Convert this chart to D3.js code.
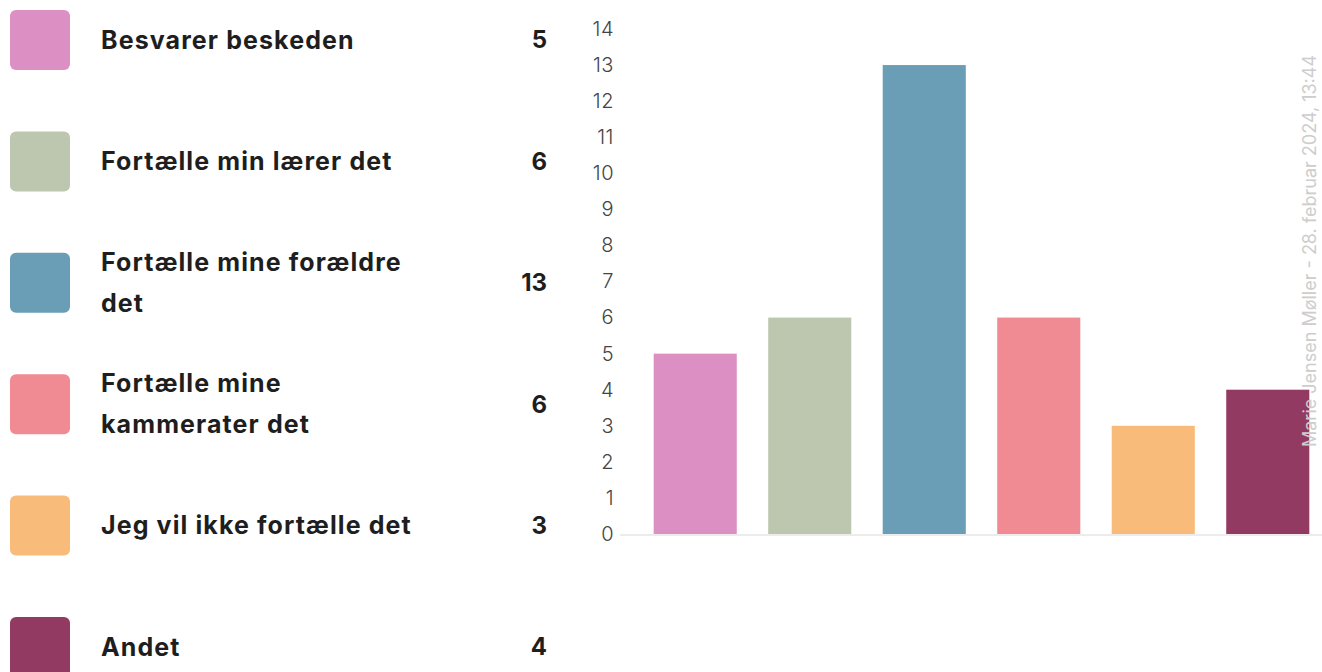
<!DOCTYPE html>
<html>
<head>
<meta charset="utf-8">
<script src="https://cdn.jsdelivr.net/npm/d3@7"></script>
<style>
  html, body { margin: 0; padding: 0; background: #fff; }
  svg { display: block; }
</style>
</head>
<body>
<svg id="chart" width="1322" height="672"></svg>
<script>
const categories = [
  "Besvarer beskeden",
  "Fortælle min lærer det",
  "Fortælle mine forældre det",
  "Fortælle mine kammerater det",
  "Jeg vil ikke fortælle det",
  "Andet"
];
const labelLines = [
  ["Besvarer beskeden"],
  ["Fortælle min lærer det"],
  ["Fortælle mine forældre", "det"],
  ["Fortælle mine", "kammerater det"],
  ["Jeg vil ikke fortælle det"],
  ["Andet"]
];
const values = [5, 6, 13, 6, 3, 4];
const colors = ["#dc8fc3", "#bdc7b0", "#6a9db6", "#f18b93", "#f9bb7a", "#933a63"];
const yTicks = [0,1,2,3,4,5,6,7,8,9,10,11,12,13,14];
const watermark = "Marie Jensen Møller - 28. februar 2024, 13:44";

const svg = d3.select("#chart");
const font = "Inter, 'Noto Sans', sans-serif";

// Legend
const legend = svg.append("g");
const rowY = d3.scaleLinear().domain([0, 1]).range([40, 161.4]);
categories.forEach((c, i) => {
  const cy = rowY(i);
  legend.append("rect")
    .attr("x", 10).attr("y", cy - 30)
    .attr("width", 60).attr("height", 60)
    .attr("rx", 6).attr("fill", colors[i]);
  const lines = labelLines[i];
  const lh = 41;
  const t = legend.append("text")
    .attr("font-family", font).attr("font-weight", 700)
    .attr("font-size", 25).attr("letter-spacing", 1.1)
    .attr("fill", "#1e1e1e");
  lines.forEach((ln, j) => {
    t.append("tspan")
      .attr("x", 101)
      .attr("y", cy + (j - (lines.length - 1) / 2) * lh)
      .attr("dy", "0.35em")
      .text(ln);
  });
  legend.append("text")
    .attr("x", 547).attr("y", cy).attr("dy", "0.35em")
    .attr("text-anchor", "end")
    .attr("font-family", font).attr("font-weight", 700)
    .attr("font-size", 24).attr("fill", "#1e1e1e")
    .text(values[i]);
});

// Chart
const x = d3.scaleBand().domain(categories).range([638, 1325])
  .paddingInner(0.2745).paddingOuter(0.137);
const y = d3.scaleLinear().domain([0, 14]).range([534, 29]);

// baseline
svg.append("line")
  .attr("x1", 620).attr("x2", 1322)
  .attr("y1", y(0) + 1).attr("y2", y(0) + 1)
  .attr("stroke", "#ececec").attr("stroke-width", 2);

const yAxis = d3.axisLeft(y).tickValues(yTicks).tickSize(0).tickPadding(0);
const gy = svg.append("g").attr("transform", "translate(614,0)").call(yAxis);
gy.select(".domain").remove();
gy.selectAll("text")
  .attr("font-family", font).attr("font-weight", 300)
  .attr("font-size", 20).attr("letter-spacing", 0.5).attr("fill", "#444");

svg.append("g").selectAll("rect").data(values).join("rect")
  .attr("x", (d, i) => x(categories[i]))
  .attr("width", x.bandwidth())
  .attr("y", d => y(d))
  .attr("height", d => y(0) - y(d))
  .attr("fill", (d, i) => colors[i]);

// watermark
svg.append("text")
  .attr("transform", "translate(1311,447) rotate(-90)")
  .attr("dy", "0.3em")
  .attr("font-family", font).attr("font-size", 18)
  .attr("fill", "#cdcdcd")
  .text(watermark);
</script>
</body>
</html>
